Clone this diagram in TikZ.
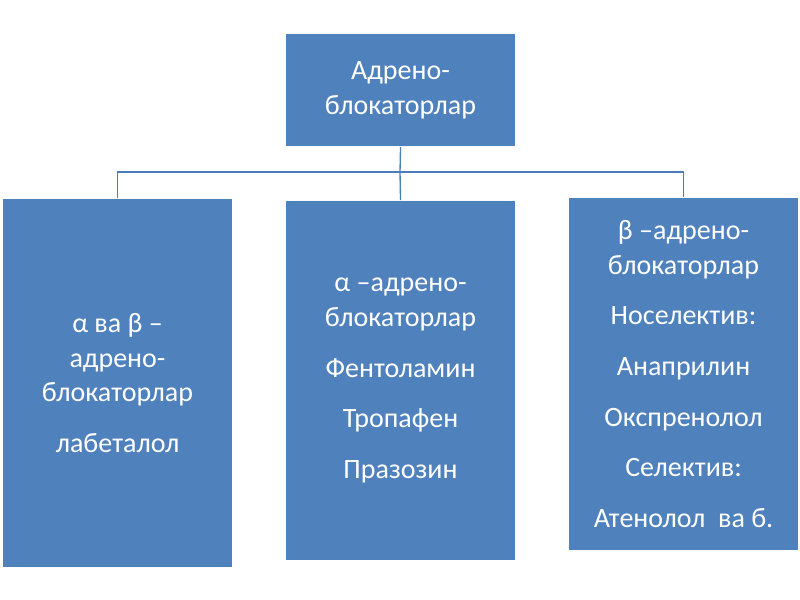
\documentclass[tikz,border=0pt]{standalone}
\usepackage{fontspec}
\setmainfont{Carlito}
\tikzset{
  blk/.style={draw=white, line width=0.8pt, fill=boxblue, text=white, align=center,
    anchor=north west, inner sep=0pt, font=\fontsize{21pt}{26pt}\selectfont},
  link/.style={draw=linkblue, line width=1pt}
}
\definecolor{boxblue}{HTML}{4F81BD}
\definecolor{linkblue}{HTML}{4A7EBB}

\begin{document}
\begin{tikzpicture}[x=0.75pt,y=-0.75pt]
\useasboundingbox (0,0) rectangle (800,600);

\node[blk, minimum width=230*0.75pt, minimum height=113*0.75pt] (top) at (285,33)
  {Адрено-\\блокаторлар};

\node[blk, minimum width=230*0.75pt, minimum height=369*0.75pt] (left) at (2,198)
  {α ва β –\\адрено-\\блокаторлар\\[12pt]лабеталол};
\node[blk, minimum width=230*0.75pt, minimum height=360*0.75pt] (mid) at (285,200)
  {α –адрено-\\блокаторлар\\[12pt]Фентоламин\\[12pt]Тропафен\\[12pt]Празозин};
\node[blk, minimum width=230*0.75pt, minimum height=353*0.75pt] (right) at (568,197)
  {β –адрено-\\блокаторлар\\[12pt]Носелектив:\\[12pt]Анаприлин\\[12pt]Окспренолол\\[12pt]Селектив:\\[12pt]Атенолол~~ва б.};

% connectors
\coordinate (bus) at (400,172);
\draw[link] (top.south) -- (bus);
\draw[link] (left.north) |- (bus) -| (right.north);
\draw[link] (bus) -- (mid.north);
\end{tikzpicture}
\end{document}
